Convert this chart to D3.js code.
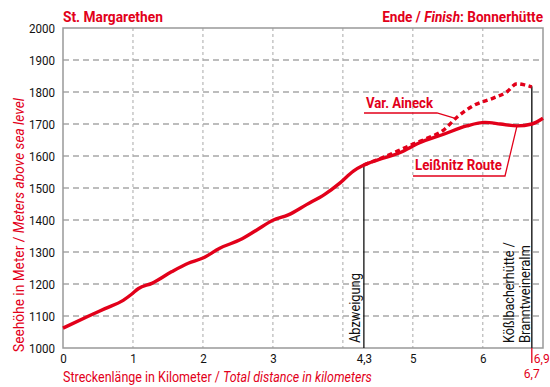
<!DOCTYPE html>
<html>
<head>
<meta charset="utf-8">
<script src="https://cdn.jsdelivr.net/npm/d3@7"></script>
<style>
  html, body { margin: 0; padding: 0; background: #fff; }
  svg { display: block; }
  text { font-family: Roboto, "Noto Sans", sans-serif; }
</style>
</head>
<body>
<svg id="chart" width="550" height="387"></svg>
<script>
// Elevation profile: St. Margarethen → Bonnerhütte
const distKm   = [0, 0.36, 0.6, 0.86, 0.98, 1.08, 1.27, 1.55, 1.79, 2.0, 2.24, 2.53, 2.77, 3.0, 3.22, 3.48, 3.74, 3.96, 4.15, 4.3, 4.53, 4.82, 5.08, 5.44, 5.77, 6.03, 6.25, 6.49, 6.7, 6.86];
const elevM    = [1062, 1099, 1123, 1149, 1168, 1186, 1202, 1238, 1265, 1281, 1312, 1338, 1369, 1399, 1416, 1448, 1480, 1516, 1553, 1572, 1590, 1611, 1640, 1668, 1694, 1705, 1700, 1694, 1700, 1718];

// Variant via Aineck (dashed)
const ainKm    = [4.3, 4.53, 4.75, 4.96, 5.2, 5.44, 5.63, 5.87, 6.15, 6.34, 6.49, 6.6, 6.7];
const ainM     = [1572, 1592, 1612, 1633, 1655, 1681, 1721, 1758, 1781, 1800, 1826, 1822, 1816];

const yTicks   = [1000, 1100, 1200, 1300, 1400, 1500, 1600, 1700, 1800, 1900, 2000];
const xTicks   = [0, 1, 2, 3, 4.3, 5, 6];
const xTickLabels = ["0", "1", "2", "3", "4,3", "5", "6"];
const xGrid    = [1, 2, 3, 4, 5, 6];

// Waypoints marked with vertical lines
const waypointKm   = [4.3, 6.7];
const waypointElev = [1572, 1818];
const endKm = 6.86;

const RED = "#e2001a";
const NARROW = 0.86;   // horizontal squeeze for a condensed look
const svg = d3.select("#chart");

const x = d3.scaleLinear().domain([0, endKm]).range([63, 543]);
const y = d3.scaleLinear().domain([1000, 2000]).range([348, 28]);

// Squeeze a text horizontally to a given advance width, anchored at (tx, ty)
function fitText(sel, tx, ty, rot, target) {
  const w = sel.node().getComputedTextLength();
  const k = target / w;
  sel.attr("x", null).attr("y", null)
    .attr("transform", `translate(${tx},${ty})${rot ? ` rotate(${rot})` : ""} scale(${k},1)`);
  return sel;
}

// Grid
svg.append("g").selectAll("line").data(yTicks.slice(1, -1)).join("line")
  .attr("x1", x(0)).attr("x2", x(endKm))
  .attr("y1", d => y(d)).attr("y2", d => y(d))
  .attr("stroke", "#a8a8a8").attr("stroke-width", 1.3).attr("stroke-dasharray", "6,4");

svg.append("g").selectAll("line").data(xGrid).join("line")
  .attr("x1", d => x(d)).attr("x2", d => x(d))
  .attr("y1", y(2000)).attr("y2", y(1000))
  .attr("stroke", "#a8a8a8").attr("stroke-width", 1).attr("stroke-dasharray", "3,3");

// Frame
svg.append("rect")
  .attr("x", x(0)).attr("y", y(2000))
  .attr("width", x(endKm) - x(0)).attr("height", y(1000) - y(2000))
  .attr("fill", "none").attr("stroke", "#999").attr("stroke-width", 1.5);

// Axes
const yAxis = d3.axisLeft(y).tickValues(yTicks).tickSize(0).tickFormat(d3.format("d"));
const gy = svg.append("g").attr("transform", `translate(${x(0)},0)`).call(yAxis);
gy.select(".domain").remove();
gy.selectAll("text")
  .attr("font-size", 13.5).attr("fill", "#111").style("font-family", "Roboto, sans-serif")
  .attr("x", 0).attr("transform", `translate(-8,0) scale(${NARROW},1)`);

const xAxis = d3.axisBottom(x).tickValues(xTicks).tickSize(0).tickPadding(5)
  .tickFormat((d, i) => xTickLabels[i]);
const gx = svg.append("g").attr("transform", `translate(0,${y(1000)})`).call(xAxis);
gx.select(".domain").remove();
gx.selectAll("text")
  .attr("font-size", 13.5).attr("fill", "#111").style("font-family", "Roboto, sans-serif")
  .attr("transform", `scale(${NARROW},1)`);

// Waypoint verticals
svg.append("line")
  .attr("x1", x(waypointKm[0])).attr("x2", x(waypointKm[0]))
  .attr("y1", y(1000)).attr("y2", y(waypointElev[0]))
  .attr("stroke", "#111").attr("stroke-width", 1.3);
svg.append("line")
  .attr("x1", x(waypointKm[1])).attr("x2", x(waypointKm[1]))
  .attr("y1", y(1000)).attr("y2", y(waypointElev[1]))
  .attr("stroke", "#333").attr("stroke-width", 1.6);

// Profile lines
const line = d3.line().x(d => x(d[0])).y(d => y(d[1])).curve(d3.curveMonotoneX);
svg.append("path")
  .datum(d3.zip(ainKm, ainM))
  .attr("d", line).attr("fill", "none")
  .attr("stroke", RED).attr("stroke-width", 3.4).attr("stroke-dasharray", "5,3.5");
svg.append("path")
  .datum(d3.zip(distKm, elevM))
  .attr("d", line).attr("fill", "none")
  .attr("stroke", RED).attr("stroke-width", 3.4).attr("stroke-linejoin", "round");

// Waypoint labels (rotated)
fitText(svg.append("text").attr("font-size", 14).attr("fill", "#111").text("Abzweigung"),
  x(waypointKm[0]) - 4, 343, -90, 70);
fitText(svg.append("text").attr("font-size", 14).attr("fill", "#111").text("Kößlbacherhütte /"),
  x(waypointKm[1]) - 18, 343, -90, 101);
fitText(svg.append("text").attr("font-size", 14).attr("fill", "#111").text("Branntweineralm"),
  x(waypointKm[1]) - 2, 343, -90, 98);

// Route labels with leader lines
fitText(svg.append("text").attr("font-size", 15).attr("font-weight", "bold").attr("fill", RED)
  .text("Var. Aineck"), 366, 108, 0, 67);
svg.append("polyline")
  .attr("points", [[364, 113], [437, 113], [x(5.63), y(1716)]].map(p => p.join(",")).join(" "))
  .attr("fill", "none").attr("stroke", RED).attr("stroke-width", 1.3);

fitText(svg.append("text").attr("font-size", 15).attr("font-weight", "bold").attr("fill", RED)
  .text("Leißnitz Route"), 415, 170, 0, 87);
svg.append("polyline")
  .attr("points", [[413, 176], [505, 176], [x(6.49), y(1696)]].map(p => p.join(",")).join(" "))
  .attr("fill", "none").attr("stroke", RED).attr("stroke-width", 1.3);

// Start / finish headers
fitText(svg.append("text").attr("font-size", 15).attr("font-weight", "bold").attr("fill", RED)
  .text("St. Margarethen"), x(0), 21.5, 0, 100);
const fin = svg.append("text").attr("text-anchor", "end")
  .attr("font-size", 15).attr("font-weight", "bold").attr("fill", RED);
fin.append("tspan").text("Ende / ");
fin.append("tspan").attr("font-style", "italic").text("Finish");
fin.append("tspan").text(": Bonnerhütte");
fitText(fin, x(endKm), 21.5, 0, 161);

// End-of-route marker on the distance axis
svg.append("line")
  .attr("x1", x(waypointKm[1])).attr("x2", x(waypointKm[1]))
  .attr("y1", y(1000)).attr("y2", y(1000) + 15)
  .attr("stroke", RED).attr("stroke-width", 1.3);
fitText(svg.append("text").attr("font-size", 13.5).attr("fill", RED).text("6,9"),
  x(waypointKm[1]) + 2, 363, 0, 16);
fitText(svg.append("text").attr("font-size", 13.5).attr("fill", RED).text("6,7"),
  x(waypointKm[1]) - 8, 377.5, 0, 16);

// Axis titles
const xt = svg.append("text").attr("font-size", 14).attr("fill", RED);
xt.append("tspan").text("Streckenlänge in Kilometer / ");
xt.append("tspan").attr("font-style", "italic").text("Total distance in kilometers");
fitText(xt, x(0), 382, 0, 309);

const yt = svg.append("text").attr("font-size", 14).attr("fill", RED);
yt.append("tspan").text("Seehöhe in Meter / ");
yt.append("tspan").attr("font-style", "italic").text("Meters above sea level");
fitText(yt, 24, 352, -90, 254);
</script>
</body>
</html>
